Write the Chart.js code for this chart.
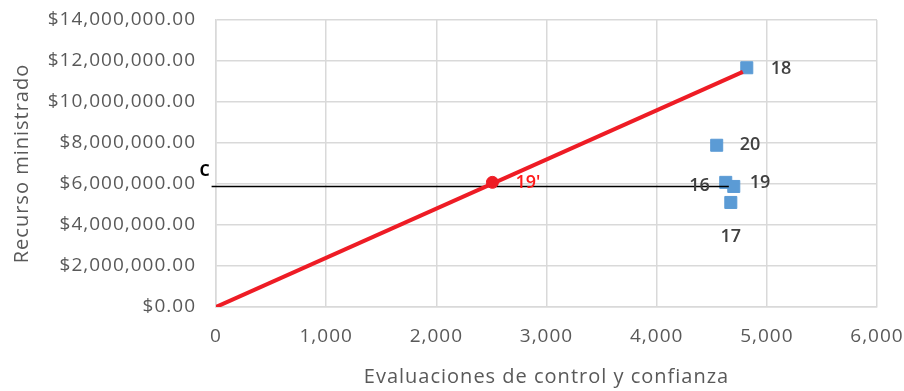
<!DOCTYPE html>
<html>
<head>
<meta charset="utf-8">
<script src="https://cdn.jsdelivr.net/npm/chart.js@4"></script>
<style>
  html, body { margin: 0; padding: 0; background: #fff; }
  #wrap { width: 904px; height: 391px; }
</style>
</head>
<body>
<div id="wrap"><canvas id="chart" width="904" height="391"></canvas></div>
<script>
// point data
const pointLabels = ["16", "17", "18", "19", "20"];
const evalX = [4627, 4673, 4818, 4700, 4545];
const recursoY = [6080000, 5100000, 11670000, 5880000, 7890000];

const refLineX = [0, 4782];
const refLineY = [0, 11470000];
const refPointX = [2509];
const refPointY = [6080000];
const refPointLabels = ["19'"];

const cutLineX = [-40, 4655];
const cutLineY = [5880000, 5880000];
const cutLabel = "C";

const xTicks = [0, 1000, 2000, 3000, 4000, 5000, 6000];
const yTicks = [0, 2000000, 4000000, 6000000, 8000000, 10000000, 12000000, 14000000];

const toXY = (xs, ys) => xs.map((x, i) => ({ x, y: ys[i] }));
const textGray = "#595959";
const font = "'Open Sans', sans-serif";

// the original text is set a little wider than Open Sans
const spacingPlugin = {
  id: "spacing",
  beforeDraw(chart) { chart.ctx.letterSpacing = "1px"; },
  afterDraw(chart) { chart.ctx.letterSpacing = "0px"; },
};

const labelPlugin = {
  id: "pointText",
  afterDatasetsDraw(chart) {
    const { ctx, scales } = chart;
    const x = scales.x, y = scales.y;
    ctx.save();
    ctx.letterSpacing = "0px";
    ctx.textBaseline = "middle";
    // blue point labels
    ctx.font = "600 18px " + font;
    ctx.fillStyle = "#404040";
    const offsets = [[-16, 4, "right"], [0, 34, "center"], [24, 1, "left"], [16, -4, "left"], [23, 0, "left"]];
    pointLabels.forEach((lbl, i) => {
      const [dx, dy, align] = offsets[i];
      ctx.textAlign = align;
      ctx.fillText(lbl, x.getPixelForValue(evalX[i]) + dx, y.getPixelForValue(recursoY[i]) + dy);
    });
    // red point label
    ctx.fillStyle = "#ff1a1a";
    ctx.textAlign = "left";
    refPointLabels.forEach((lbl, i) => {
      ctx.fillText(lbl, x.getPixelForValue(refPointX[i]) + 23, y.getPixelForValue(refPointY[i]) + 1);
    });
    // C label
    ctx.fillStyle = "#000";
    ctx.font = "bold 16px " + font;
    ctx.textAlign = "center";
    ctx.fillText(cutLabel, x.getPixelForValue(cutLineX[0]) - 7, y.getPixelForValue(cutLineY[0]) - 15);
    ctx.restore();
  },
};

new Chart(document.getElementById("chart"), {
  type: "scatter",
  data: {
    datasets: [
      {
        label: "Recta",
        type: "line",
        data: toXY(refLineX, refLineY),
        borderColor: "#ee1c25",
        borderWidth: 4,
        pointRadius: 0,
        fill: false,
      },
      {
        label: "19'",
        data: toXY(refPointX, refPointY),
        backgroundColor: "#ee1c25",
        borderColor: "#ee1c25",
        pointStyle: "circle",
        pointRadius: 6,
      },
      {
        label: "C",
        type: "line",
        data: toXY(cutLineX, cutLineY),
        borderColor: "#000",
        borderWidth: 1.5,
        pointRadius: 0,
        fill: false,
        clip: false,
      },
      {
        label: "Municipios",
        data: toXY(evalX, recursoY),
        backgroundColor: "#5b9bd5",
        borderColor: "#5b9bd5",
        pointStyle: "rect",
        pointRadius: 8.5,
      },
    ],
  },
  options: {
    responsive: false,
    animation: false,
    layout: { padding: { left: 0, right: 27, top: 20, bottom: 0 } },
    plugins: { legend: { display: false }, tooltip: { enabled: false } },
    scales: {
      x: {
        type: "linear",
        min: 0,
        max: 6000,
        afterBuildTicks: (s) => { s.ticks = xTicks.map((v) => ({ value: v })); },
        afterFit: (s) => { s.height = 84; s.paddingLeft = 0; s.paddingRight = 0; },
        grid: { color: "#d9d9d9", lineWidth: 1.5, drawTicks: false },
        border: { color: "#d9d9d9", width: 1.5 },
        ticks: {
          padding: 18,
          color: textGray,
          font: { family: font, size: 19 },
          callback: (v) => v.toLocaleString("en-US"),
        },
        title: {
          display: true,
          text: "Evaluaciones de control y confianza",
          color: textGray,
          font: { family: font, size: 20 },
          padding: { top: 4, bottom: 2 },
        },
      },
      y: {
        min: 0,
        max: 14000000,
        afterBuildTicks: (s) => { s.ticks = yTicks.map((v) => ({ value: v })); },
        afterFit: (s) => { s.width = 216; s.paddingTop = 0; s.paddingBottom = 0; },
        grid: { color: "#d9d9d9", lineWidth: 1.5, drawTicks: false },
        border: { color: "#d9d9d9", width: 1.5 },
        ticks: {
          padding: 20,
          color: textGray,
          font: { family: font, size: 19 },
          callback: (v) => "$" + v.toLocaleString("en-US", { minimumFractionDigits: 2, maximumFractionDigits: 2 }),
        },
        title: {
          display: true,
          text: "Recurso ministrado",
          color: textGray,
          font: { family: font, size: 20 },
          padding: { top: 10, bottom: 4 },
        },
      },
    },
  },
  plugins: [spacingPlugin, labelPlugin],
});
</script>
</body>
</html>
